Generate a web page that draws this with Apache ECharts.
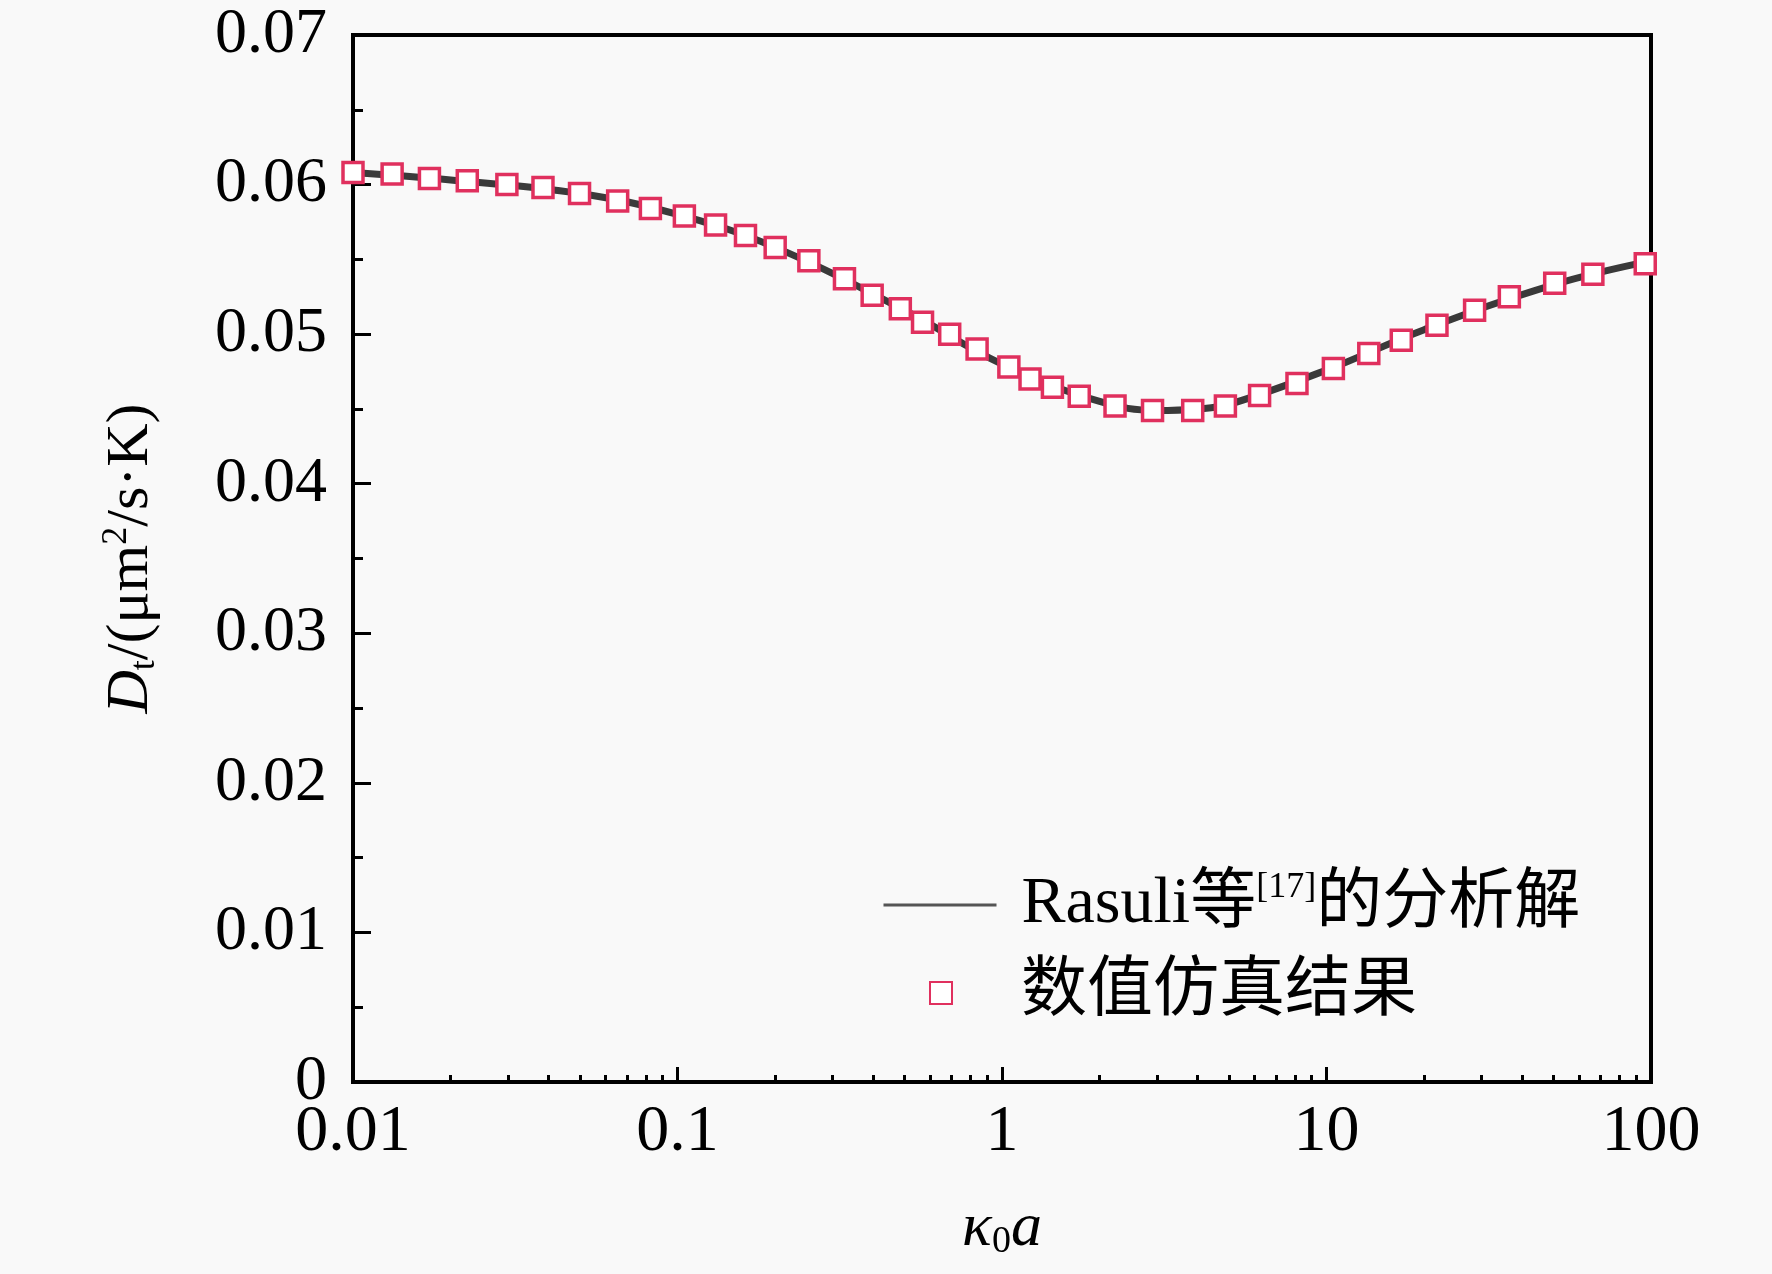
<!DOCTYPE html>
<html>
<head>
<meta charset="utf-8">
<title>Dt vs k0a</title>
<script src="https://cdn.jsdelivr.net/npm/echarts@6/dist/echarts.min.js"></script>
<style>
  html, body { margin: 0; padding: 0; background: #f9f9f9; }
  #chart { width: 1772px; height: 1274px; }
</style>
</head>
<body>
<div id="chart"></div>
<script>
// 数值仿真结果
const simX = [0.01, 0.0132, 0.0172, 0.0225, 0.0298, 0.0385, 0.0499, 0.0654, 0.0825,
  0.105, 0.131, 0.162, 0.200, 0.254, 0.327, 0.398, 0.486, 0.569, 0.690, 0.838,
  1.05, 1.22, 1.43, 1.73, 2.23, 2.91, 3.87, 4.88, 6.22, 8.11,
  10.5, 13.5, 17.0, 21.9, 28.6, 36.6, 50.5, 66.2, 96];
const simY = [0.0608, 0.0607, 0.0604, 0.06025, 0.0600, 0.0598, 0.0594, 0.0589, 0.0584,
  0.0579, 0.0573, 0.0566, 0.0558, 0.0549, 0.0537, 0.0526, 0.0517, 0.0508, 0.0500, 0.0490,
  0.0478, 0.0470, 0.04645, 0.04585, 0.0452, 0.0449, 0.0449, 0.0452, 0.0459, 0.0467,
  0.0477, 0.0487, 0.0496, 0.0506, 0.0516, 0.0525, 0.0534, 0.0540, 0.0547];

// Rasuli 等的分析解
const lineX = [0.01, 0.02, 0.05, 0.1, 0.2, 0.5, 1, 2, 3, 4, 5, 10, 20, 50, 100];
const lineY = [0.0608, 0.0603, 0.0594, 0.0580, 0.0558, 0.0516, 0.0480, 0.0455, 0.0449,
  0.0450, 0.0453, 0.0476, 0.0503, 0.0533, 0.0549];

// axis ticks
const xMinorTicks = [];
[0.01, 0.1, 1, 10].forEach(d => {
  for (let k = 2; k <= 9; k++) xMinorTicks.push(+(d * k).toPrecision(3));
});
const yTicks = [0, 0.01, 0.02, 0.03, 0.04, 0.05, 0.06, 0.07];

const serif = "'Liberation Serif', 'Times New Roman', 'Noto Sans CJK SC', serif";
const lineName = 'Rasuli等[17]的分析解';
const simName = '数值仿真结果';

const chart = echarts.init(document.getElementById('chart'));

const option = {
  backgroundColor: '#f9f9f9',
  animation: false,
  grid: {
    left: 353, right: 121, top: 35, bottom: 192,
    show: true,
    borderColor: '#000',
    borderWidth: 4,
    backgroundColor: 'transparent'
  },
  xAxis: [
    {
      type: 'log',
      logBase: 10,
      min: 0.01,
      max: 100,
      name: '{i|κ}{sub|0}{i|a}',
      nameLocation: 'middle',
      nameGap: 115,
      nameTextStyle: {
        rich: {
          i: { fontFamily: serif, fontStyle: 'italic', fontSize: 62, color: '#000', lineHeight: 64 },
          sub: { fontFamily: serif, fontSize: 38, color: '#000', verticalAlign: 'bottom', lineHeight: 64 }
        }
      },
      axisLine: { show: true, onZero: false, lineStyle: { color: '#000', width: 4 } },
      axisTick: { show: true, inside: true, length: 15, lineStyle: { color: '#000', width: 3 } },
      axisLabel: {
        margin: 18,
        fontFamily: serif,
        fontSize: 66,
        color: '#000',
        formatter: v => String(v)
      },
      splitLine: { show: false }
    },
    {
      type: 'log',
      logBase: 10,
      min: 0.01,
      max: 100,
      position: 'bottom',
      axisLine: { show: false },
      axisTick: {
        show: true, inside: true, length: 7,
        customValues: xMinorTicks,
        lineStyle: { color: '#000', width: 3 }
      },
      axisLabel: { show: false },
      splitLine: { show: false }
    }
  ],
  yAxis: {
    type: 'value',
    min: 0,
    max: 0.07,
    interval: 0.01,
    name: '{i|D}{sub|t}{n|/(μm}{sup|2}{n|/s·K)}',
    nameLocation: 'middle',
    nameRotate: 90,
    nameGap: 190,
    nameTextStyle: {
      rich: {
        i: { fontFamily: serif, fontStyle: 'italic', fontSize: 60, color: '#000', lineHeight: 64 },
        n: { fontFamily: serif, fontSize: 60, color: '#000', lineHeight: 64 },
        sub: { fontFamily: serif, fontSize: 36, color: '#000', verticalAlign: 'bottom', lineHeight: 64 },
        sup: { fontFamily: serif, fontSize: 36, color: '#000', verticalAlign: 'top', lineHeight: 64 }
      }
    },
    axisLine: { show: true, lineStyle: { color: '#000', width: 4 } },
    axisTick: { show: true, inside: true, length: 18, lineStyle: { color: '#000', width: 3 } },
    minorTick: { show: true, splitNumber: 2, length: 10, lineStyle: { color: '#000', width: 3 } },
    axisLabel: {
      margin: 26,
      fontFamily: serif,
      fontSize: 64,
      color: '#000',
      formatter: v => (yTicks.indexOf(+v.toFixed(2)) >= 0 ? String(+v.toFixed(2)) : '')
    },
    splitLine: { show: false }
  },
  legend: [
    {
      data: [lineName],
      left: 877,
      top: 865,
      itemWidth: 113,
      itemHeight: 20,
      lineStyle: { width: 3, color: '#555' },
      itemStyle: { opacity: 0 },
      formatter: () => '{r|Rasuli等}{s|[17]}{r|的分析解}',
      textStyle: {
        padding: [0, 0, 0, 20],
        rich: {
          r: { fontFamily: serif, fontSize: 66, color: '#000', lineHeight: 70 },
          s: { fontFamily: serif, fontSize: 36, color: '#000', verticalAlign: 'top', lineHeight: 70 }
        }
      },
      selectedMode: false
    },
    {
      data: [{ name: simName, icon: 'rect' }],
      left: 924,
      top: 953,
      itemWidth: 22,
      itemHeight: 22,
      textStyle: {
        padding: [0, 0, 0, 64],
        fontFamily: serif,
        fontSize: 66,
        lineHeight: 70,
        color: '#000'
      },
      selectedMode: false
    }
  ],
  series: [
    {
      name: lineName,
      type: 'line',
      xAxisIndex: 0,
      data: lineX.map((x, i) => [x, lineY[i]]),
      smooth: 0.4,
      symbol: 'none',
      lineStyle: { color: '#3a3a3a', width: 7 },
      itemStyle: { color: '#3a3a3a' },
      z: 2
    },
    {
      name: simName,
      type: 'scatter',
      xAxisIndex: 0,
      data: simX.map((x, i) => [x, simY[i]]),
      symbol: 'rect',
      symbolSize: 20,
      itemStyle: { color: '#ffffff', opacity: 1, borderColor: '#e0305e', borderWidth: 3.5 },
      z: 3
    }
  ]
};

chart.setOption(option);
window.addEventListener('resize', () => {
  chart.resize();
});
</script>
</body>
</html>
